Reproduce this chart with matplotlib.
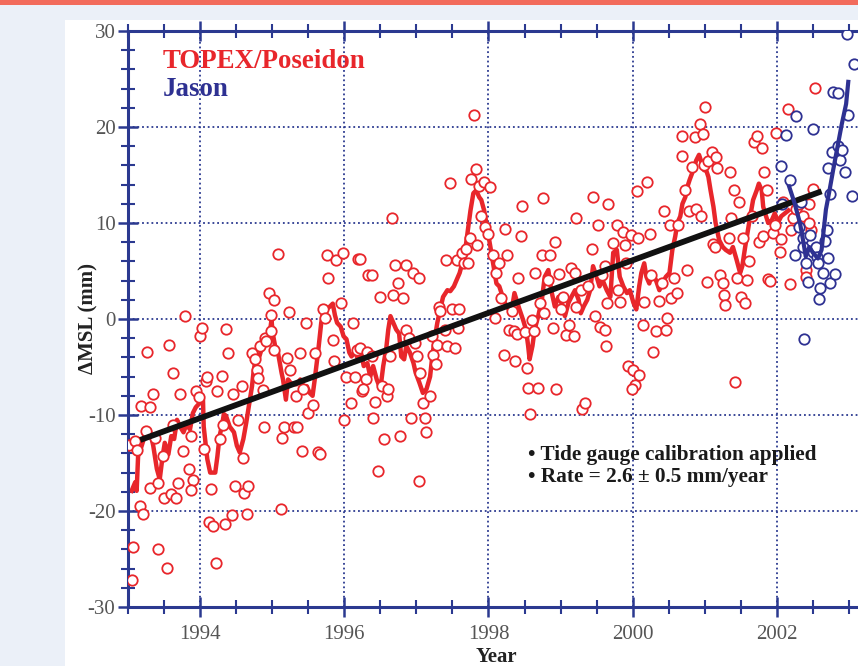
import numpy as np
import matplotlib
matplotlib.use('Agg')
import matplotlib.pyplot as plt
from matplotlib.ticker import MultipleLocator
from matplotlib.patches import Rectangle

plt.rcParams['font.family'] = ['Liberation Serif', 'DejaVu Serif']
plt.rcParams['axes.unicode_minus'] = False

# TOPEX/Poseidon 10-day cycle values (year, mm)
topex_year = np.array([
    1993.05, 1993.07, 1993.16, 1993.21, 1993.02, 1993.10, 1993.13, 1993.18, 1993.31, 1993.25,
    1993.26, 1993.34, 1993.37, 1993.31, 1993.41, 1993.49, 1993.50, 1993.42, 1993.54, 1993.57,
    1993.63, 1993.59, 1993.67, 1993.62, 1993.70, 1993.72, 1993.76, 1993.79, 1993.84, 1993.87,
    1993.90, 1993.88, 1993.94, 1993.98, 1994.00, 1994.03, 1994.05, 1994.08, 1994.10, 1994.13,
    1994.15, 1994.18, 1994.22, 1994.24, 1994.27, 1994.30, 1994.32, 1994.36, 1994.35, 1994.39,
    1994.45, 1994.44, 1994.48, 1994.53, 1994.58, 1994.60, 1994.61, 1994.67, 1994.65, 1994.72,
    1994.76, 1994.79, 1994.81, 1994.83, 1994.87, 1994.88, 1994.90, 1994.95, 1994.92, 1994.98,
    1994.99, 1995.02, 1995.03, 1995.08, 1995.12, 1995.13, 1995.16, 1995.20, 1995.23, 1995.25,
    1995.30, 1995.34, 1995.33, 1995.39, 1995.41, 1995.43, 1995.47, 1995.50, 1995.57, 1995.59,
    1995.63, 1995.66, 1995.70, 1995.73, 1995.76, 1995.78, 1995.84, 1995.86, 1995.89, 1995.95,
    1995.98, 1995.99, 1996.03, 1996.09, 1996.12, 1996.15, 1996.18, 1996.19, 1996.22, 1996.24,
    1996.30, 1996.33, 1996.31,
    1996.22, 1996.38, 1996.39, 1996.26, 1996.43, 1996.40, 1996.55, 1996.49, 1996.52, 1996.59,
    1996.61, 1996.66, 1996.64, 1996.68, 1996.70, 1996.75, 1996.77, 1996.82, 1996.85, 1996.86,
    1996.90, 1996.92, 1996.95, 1996.98, 1997.01, 1997.04, 1997.05, 1997.09, 1997.12, 1997.14,
    1997.19, 1997.21, 1997.23, 1997.27, 1997.29, 1997.32, 1997.33, 1997.40, 1997.41, 1997.43,
    1997.47, 1997.50, 1997.54, 1997.56, 1997.59, 1997.58, 1997.63, 1997.66, 1997.69, 1997.72,
    1997.74, 1997.76, 1997.80, 1997.83, 1997.84, 1997.87, 1997.90, 1997.94, 1997.95, 1998.00,
    1998.02, 1998.06, 1998.09, 1998.10, 1998.15, 1998.18, 1998.21, 1998.23, 1998.26, 1998.29,
    1998.32, 1998.35, 1998.37, 1998.40, 1998.41, 1998.45, 1998.47, 1998.51, 1998.54, 1998.55,
    1998.57, 1998.61, 1998.63, 1998.65, 1998.68, 1998.71, 1998.74, 1998.76, 1998.77, 1998.83,
    1998.86, 1998.89, 1998.92, 1998.94, 1998.98, 1999.01, 1999.04, 1999.07, 1999.11, 1999.14,
    1999.18, 1999.21, 1999.20, 1999.22, 1999.28, 1999.30, 1999.34, 1999.38, 1999.43, 1999.45,
    1999.48, 1999.52, 1999.54, 1999.58, 1999.63, 1999.64, 1999.66, 1996.47, 1997.04,
    1999.62, 1999.62, 1999.73, 1999.78, 1999.80, 1999.83, 1999.86, 1999.89, 1999.91, 1999.94,
    1999.98, 2000.01, 2000.03, 2000.06, 2000.09, 2000.08, 2000.14, 2000.16, 2000.20, 2000.24,
    2000.26, 2000.28, 2000.33, 2000.37, 2000.40, 2000.43, 2000.46, 2000.47, 2000.52, 2000.53,
    2000.57, 2000.61, 2000.63, 2000.68, 2000.69, 2000.73, 2000.75, 2000.78, 2000.82, 2000.86,
    2000.88, 2000.93, 2000.95, 2000.98, 2001.00, 2000.99, 2001.03, 2001.05, 2001.10, 2001.11,
    2001.14, 2001.15, 2001.17, 2001.21, 2001.25, 2001.27, 2001.28, 2001.33, 2001.35, 2001.37,
    2001.40, 2001.42, 2001.44, 2001.48, 2001.50, 2001.53, 2001.56, 2001.58, 2001.62, 2001.65,
    2001.68, 2001.72, 2001.75, 2001.79, 2001.81, 2001.82, 2001.86, 2001.88, 2001.90, 2001.94,
    2001.97, 2001.99, 2002.04, 2002.06, 2002.09, 2002.16, 2002.18, 2002.20, 2002.23, 2002.27,
    2002.31, 2002.36, 2002.40, 2002.41, 2002.44, 2002.47, 2002.50, 2002.53, 2002.45, 1999.99,
])
topex_mm = np.array([
    -27.2, -23.8, -19.5, -20.3, -13.1, -12.7, -13.6, -9.1, -9.2, -11.7,
    -3.4, -7.8, -12.4, -17.6, -17.1, -14.3, -18.6, -24.0, -25.9, -2.7,
    -5.6, -18.2, -18.6, -11.0, -17.1, -7.8, -13.7, 0.3, -15.6, -12.2,
    -16.8, -17.8, -7.5, -8.1, -1.8, -0.9, -13.5, -6.5, -6.0, -21.1,
    -17.7, -21.6, -25.4, -7.5, -12.5, -5.9, -11.0, -1.0, -21.4, -3.5,
    -7.8, -20.4, -17.4, -10.5, -7.0, -14.5, -18.1, -17.4, -20.3, -3.5,
    -4.2, -5.3, -6.1, -2.8, -7.4, -11.3, -2.0, 2.7, -2.3, -1.2,
    0.4, 2.0, -3.2, 6.8, -19.8, -12.4, -11.3, -4.1, 0.7, -5.3,
    -11.3, -11.2, -8.0, -3.5, -13.7, -7.3, -0.4, -9.8, -9.0, -3.5,
    -13.9, -14.1, 1.0, 0.1, 6.7, 4.3, -2.2, -4.4, 6.1, 1.7,
    6.9, -10.5, -6.0, -8.7, -0.4, -6.0, -3.2, 6.2, -3.0, -7.5,
    -6.3, 4.6, -3.4,
    6.3, 4.6, -3.9, -7.3, -8.6, -10.3, -12.5, 2.3, -7.0, -8.0,
    -7.3, 10.5, -3.9, 2.5, 5.6, 3.7, -12.2, 2.2, -1.1, 5.6,
    -2.0, -10.3, 4.8, -2.5, -3.9, 4.3, -5.6, -8.7, -10.3, -11.8,
    -8.0, -1.8, -3.7, -4.7, -2.7, 1.3, 0.8, -1.1, 6.1, -2.8,
    14.2, 1.0, -3.0, 6.1, 1.0, -0.9, 6.9, 5.8, 7.3, 5.8,
    8.4, 14.6, 21.3, 15.6, 7.7, 13.9, 10.7, 14.3, 9.6, 8.9,
    13.7, 6.7, 0.1, 4.8, 5.8, 2.2, -3.8, 9.4, 6.7, -1.1,
    0.8, -1.3, -4.4, -1.6, 4.3, 8.6, 11.8, -1.4, -5.1, -7.2,
    -9.9, -0.1, -1.3, 4.8, -7.2, 1.7, 6.7, 12.6, 0.6, 4.1,
    6.7, -0.9, 8.0, -7.3, 4.7, 1.0, 2.3, -1.7, -0.6, 5.3,
    -1.8, 10.5, 4.8, 1.3, 3.0, -9.4, -8.7, 3.4, 7.3, 12.7,
    0.3, 9.8, -0.8, 4.6, -2.8, 1.7, 12.0, -15.8, -16.9,
    5.5, -1.1, 7.9, 9.8, 3.0, 1.8, 9.1, 7.7, 5.8, -4.9,
    8.8, -5.3, -6.9, 13.3, -5.8, 8.4, -0.6, 1.8, 14.3, 8.9,
    4.6, -3.4, -1.3, 1.9, 3.8, 11.3, -1.1, 0.1, 9.8, 2.2,
    4.3, 2.7, 9.8, 19.1, 17.0, 13.4, 5.1, 11.3, 15.8, 19.0,
    11.5, 20.3, 10.7, 19.3, 22.1, 16.0, 3.9, 16.5, 17.4, 7.8,
    7.5, 16.9, 15.7, 4.6, 3.8, 2.5, 1.5, 8.4, 15.3, 10.5,
    13.4, -6.6, 4.3, 12.2, 2.3, 8.4, 1.7, 4.1, 6.0, 10.7,
    18.4, 19.1, 8.0, 17.8, 8.6, 15.3, 13.4, 4.2, 4.0, 9.0,
    9.8, 19.4, 7.0, 8.3, 12.2, 21.9, 3.6, 9.3, 10.5, 11.5,
    12.0, 10.7, 5.1, 4.4, 12.0, 9.3, 13.5, 24.1, 10.0, -7.3,
])

# smoothed TOPEX curve
topex_smooth_year = [
    1993.05, 1993.10, 1993.12, 1993.14, 1993.19, 1993.26, 1993.31, 1993.35, 1993.40, 1993.44,
    1993.48, 1993.51, 1993.56, 1993.60, 1993.64, 1993.68, 1993.72, 1993.77, 1993.81, 1993.86,
    1993.90, 1993.94, 1994.00, 1994.04, 1994.05, 1994.10, 1994.14, 1994.21, 1994.24, 1994.27,
    1994.30, 1994.33, 1994.36, 1994.41, 1994.47, 1994.51, 1994.55, 1994.60, 1994.64, 1994.67,
    1994.72, 1994.74, 1994.76, 1994.81, 1994.85, 1994.88, 1994.92, 1994.96, 1994.99, 1995.01,
    1995.04, 1995.08, 1995.13, 1995.15, 1995.19, 1995.22, 1995.25, 1995.29, 1995.34, 1995.39,
    1995.43, 1995.48, 1995.52, 1995.56, 1995.59, 1995.64, 1995.68, 1995.71, 1995.75, 1995.80,
    1995.84, 1995.87, 1995.90, 1995.95, 1995.99, 1996.03, 1996.07, 1996.10, 1996.15, 1996.19,
    1996.23, 1996.27, 1996.32, 1996.36, 1996.40, 1996.45, 1996.50, 1996.54, 1996.58, 1996.61,
    1996.64, 1996.68, 1996.72, 1996.76, 1996.79, 1996.83, 1996.86, 1996.91, 1996.96, 1996.99,
    1997.04, 1997.09, 1997.14, 1997.19, 1997.22, 1997.26, 1997.29, 1997.33, 1997.37, 1997.43,
    1997.47, 1997.52, 1997.56, 1997.60, 1997.65, 1997.69, 1997.72, 1997.75, 1997.79, 1997.83,
    1997.87, 1997.90, 1997.94, 1997.97, 1998.01, 1998.04, 1998.07, 1998.11, 1998.15, 1998.18,
    1998.21, 1998.25, 1998.29, 1998.33, 1998.36, 1998.40, 1998.43, 1998.48, 1998.52, 1998.55,
    1998.57, 1998.61, 1998.64, 1998.69, 1998.74, 1998.78, 1998.83, 1998.87, 1998.92, 1998.97,
    1999.01, 1999.06, 1999.11, 1999.15, 1999.20, 1999.25, 1999.28, 1999.32, 1999.37, 1999.41,
    1999.45, 1999.50, 1999.54, 1999.58, 1999.64, 1999.69, 1999.73, 1999.78, 1999.82, 1999.87,
    1999.92, 1999.96, 2000.01, 2000.05, 2000.09, 2000.12, 2000.16, 2000.19, 2000.23, 2000.27,
    2000.32, 2000.37, 2000.41, 2000.46, 2000.51, 2000.55, 2000.59, 2000.62, 2000.66, 2000.69,
    2000.73, 2000.76, 2000.79, 2000.84, 2000.88, 2000.92, 2000.95, 2000.99, 2001.01, 2001.05,
    2001.08, 2001.12, 2001.15, 2001.20, 2001.25, 2001.29, 2001.35, 2001.39, 2001.44, 2001.49,
    2001.52, 2001.56, 2001.59, 2001.63, 2001.67, 2001.72, 2001.75, 2001.79, 2001.81, 2001.85,
    2001.88, 2001.93, 2001.97, 2002.02, 2002.06, 2002.11, 2002.16,
]
topex_smooth_mm = [
    -17.9, -17.0, -17.9, -14.3, -13.2, -11.5, -11.8, -13.2, -15.6, -16.7,
    -14.3, -12.9, -14.1, -12.2, -12.5, -10.5, -11.2, -11.8, -11.0, -11.5,
    -9.8, -9.2, -8.7, -8.4, -11.2, -14.6, -16.0, -16.0, -14.3, -12.2,
    -11.2, -9.9, -10.1, -11.2, -11.8, -13.2, -13.9, -12.5, -10.8, -9.4,
    -7.0, -5.6, -4.6, -4.2, -3.2, -2.8, -2.1, -1.8, -0.1, -1.6,
    -2.8, -3.5, -5.6, -6.3, -8.4, -6.3, -6.6, -6.8, -6.8, -6.3,
    -7.0, -7.0, -7.7, -8.0, -6.3, -3.2, -0.4, 0.8, 1.0, 1.3,
    1.6, 0.4, -0.4, -0.8, -1.8, -2.1, -3.5, -3.9, -3.4, -4.2,
    -3.5, -4.9, -4.6, -6.0, -4.9, -6.3, -7.3, -4.9, -3.2, -1.1,
    0.3, -0.4, -1.1, -1.5, -3.9, -4.2, -2.8, -3.5, -4.6, -5.6,
    -6.6, -7.7, -7.3, -6.0, -3.9, -1.8, -0.4, 1.0, 2.3, 3.0,
    2.9, 3.4, 4.1, 4.8, 6.2, 7.9, 9.6, 11.3, 13.1, 13.4,
    12.7, 12.4, 11.3, 10.0, 8.2, 6.9, 5.5, 3.7, 3.4, 2.7,
    2.0, 1.3, 1.0, 1.3, 2.7, 1.7, 1.0, -0.1, -1.1, -2.8,
    -4.2, -2.8, -1.1, 0.3, 2.0, 4.4, 5.1, 3.0, 1.3, 2.3,
    1.7, 0.3, 1.7, 2.3, 3.0, 2.0, 0.6, 1.3, 2.0, 3.0,
    5.5, 4.4, 3.4, 4.1, 3.0, 2.3, 6.9, 7.2, 4.4, 3.4,
    2.7, 3.0, 1.7, 1.0, 3.4, 4.8, 5.8, 4.4, 3.7, 4.8,
    4.1, 3.0, 3.7, 4.4, 4.8, 7.2, 8.6, 10.0, 10.7, 12.0,
    12.7, 13.8, 14.5, 15.5, 16.5, 17.1, 16.4, 15.5, 15.7, 14.8,
    13.4, 11.7, 10.0, 8.2, 7.5, 7.2, 6.9, 7.5, 6.2, 4.8,
    5.5, 7.5, 8.9, 10.7, 12.4, 13.4, 14.1, 13.4, 11.7, 10.7,
    10.0, 10.3, 11.0, 10.1, 10.7, 11.0, 11.3,
]

# Jason cycles
jason_year = np.array([
    2002.06, 2002.13, 2002.18, 2002.27, 2002.07, 2002.25, 2002.31, 2002.33, 2002.36, 2002.36,
    2002.41, 2002.43, 2002.46, 2002.50, 2002.50, 2002.54, 2002.55, 2002.57, 2002.60, 2002.59,
    2002.64, 2002.67, 2002.69, 2002.71, 2002.73, 2002.71, 2002.74, 2002.77, 2002.81, 2002.85,
    2002.88, 2002.91, 2002.94, 2002.99, 2003.04, 2002.78, 2002.85, 2002.97, 2003.07, 2002.38,
])
jason_mm = np.array([
    15.9, 19.2, 14.5, 21.1, 12.0, 6.7, 9.6, 12.2, 8.4, 7.5,
    5.8, 3.9, 8.8, 19.8, 7.0, 7.5, 6.5, 5.8, 3.2, 2.1,
    4.8, 8.1, 9.3, 15.7, 13.0, 6.4, 3.7, 17.4, 4.7, 18.0,
    16.6, 17.6, 15.3, 21.3, 12.8, 23.6, 23.5, 29.7, 26.6, -2.1,
])

jason_smooth_year = [2002.17, 2002.24, 2002.32, 2002.37, 2002.40, 2002.45, 2002.50, 2002.57,
                     2002.62, 2002.65, 2002.68, 2002.73, 2002.78, 2002.84, 2002.90, 2002.96, 2002.99]
jason_smooth_mm = [13.8, 12.2, 10.0, 7.9, 6.5, 7.5, 6.9, 6.3,
                   7.2, 9.3, 11.4, 13.4, 15.5, 17.9, 20.3, 22.4, 24.7]

# linear fit (2.6 mm/yr)
fit_year = [1993.17, 2002.62]
fit_mm = [-12.6, 13.3]

RED = '#e8262b'
BLUE = '#2e3192'
NAVY = '#2b3990'

fig = plt.figure(figsize=(8.58, 6.66), dpi=100, facecolor='#ebf0f8')
# red strip on top, white panel behind the chart
fig.patches.append(Rectangle((0, 1 - 5 / 666), 1, 5 / 666, transform=fig.transFigure,
                             facecolor='#f26b5c', edgecolor='none', zorder=-10))
fig.patches.append(Rectangle((65 / 858, 0), 1 - 65 / 858, 646 / 666, transform=fig.transFigure,
                             facecolor='white', edgecolor='none', zorder=-10))

ax = fig.add_axes([128 / 858, 59 / 666, 730 / 858, 576 / 666])
ax.set_facecolor('white')

ax.plot(topex_smooth_year, topex_smooth_mm, color=RED, lw=3.2, zorder=2)
ax.plot(topex_year, topex_mm, 'o', mfc='white', mec=RED, ms=7.5, mew=1.3, zorder=3)
ax.plot(jason_year, jason_mm, 'o', mfc='white', mec=BLUE, ms=7.5, mew=1.3, zorder=3)
ax.plot(fit_year, fit_mm, color='#111111', lw=4.2, solid_capstyle='butt', zorder=4)
ax.plot(jason_smooth_year, jason_smooth_mm, color=BLUE, lw=3.0, zorder=5)

ax.set_xlim(1993, 2003.125)
ax.set_ylim(-30, 30)
ax.xaxis.set_major_locator(MultipleLocator(2))
ax.xaxis.set_minor_locator(MultipleLocator(0.5))
ax.yaxis.set_major_locator(MultipleLocator(10))
ax.yaxis.set_minor_locator(MultipleLocator(2))

ax.tick_params(which='both', direction='inout', color=NAVY, top=True, right=False,
               labelcolor='#555555', labelsize=15)
ax.tick_params(which='major', length=14, width=1.8)
ax.tick_params(which='minor', length=10, width=1.5)
ax.tick_params(axis='x', which='major', pad=6)
ax.tick_params(axis='y', which='major', pad=2)

ax.grid(which='major', color=NAVY, linestyle=(0, (1, 1.6)), linewidth=1.3)
ax.set_axisbelow(True)
for side in ['left', 'top', 'bottom']:
    ax.spines[side].set_color(NAVY)
    ax.spines[side].set_linewidth(2.2)
ax.spines['right'].set_visible(False)

fig.text(88 / 858, 1 - 319 / 666, 'ΔMSL (mm)', rotation=90, ha='center', va='center',
         fontsize=15, fontweight='bold', color='#222222')
fig.text(496 / 858, 1 - 657 / 666, 'Year', ha='center', va='center',
         fontsize=15, fontweight='bold', color='#222222')

fig.text(163 / 858, 1 - 62 / 666, 'TOPEX/Poseidon', color=RED, fontsize=19.4,
         fontweight='bold', ha='left', va='center')
fig.text(163 / 858, 1 - 90 / 666, 'Jason', color=BLUE, fontsize=19.4,
         fontweight='bold', ha='left', va='center')

fig.text(528 / 858, 1 - 455 / 666, '• Tide gauge calibration applied', fontsize=15.3,
         fontweight='bold', ha='left', va='center', color='#1a1a1a')
fig.text(528 / 858, 1 - 477 / 666, '• Rate = 2.6 ± 0.5 mm/year', fontsize=15.3,
         fontweight='bold', ha='left', va='center', color='#1a1a1a')

fig.savefig('out.png', dpi=100, facecolor=fig.get_facecolor())
